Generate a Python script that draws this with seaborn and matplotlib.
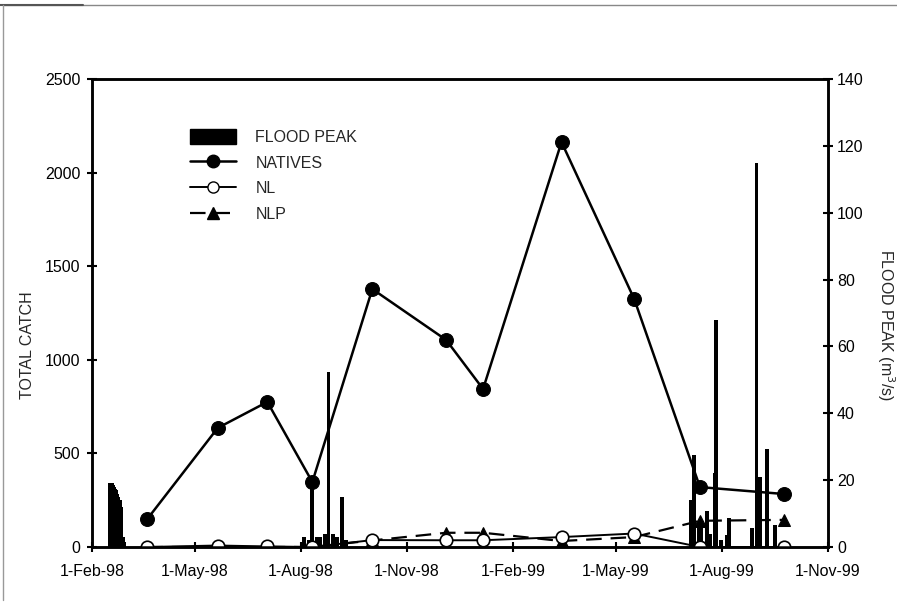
import matplotlib
matplotlib.use('Agg')
import matplotlib.pyplot as plt
from matplotlib.patches import Patch
from matplotlib.lines import Line2D
import seaborn as sns
import pandas as pd

# ---- data ----
sample_dates = ['1998-03-21', '1998-05-21', '1998-07-03', '1998-08-11', '1998-10-02',
                '1998-12-05', '1999-01-06', '1999-03-15', '1999-05-17', '1999-07-13',
                '1999-09-24']
natives = [150, 636, 775, 347, 1378, 1106, 844, 2163, 1325, 320, 283]
nl = [0, 8, 3, 0, 37, 36, 36, 53, 72, 0, 0]
nlp = [0, 0, 0, 0, 35, 76, 76, 32, 53, 140, 145]

flood_dates = ['1998-02-17', '1998-02-18', '1998-02-19', '1998-02-20', '1998-02-21',
               '1998-02-22', '1998-02-23', '1998-02-24', '1998-02-25', '1998-02-26',
               '1998-02-27', '1998-02-28', '1998-03-01',
               '1998-08-04', '1998-08-08', '1998-08-11', '1998-08-15', '1998-08-18',
               '1998-08-22', '1998-08-25', '1998-08-29', '1998-09-01', '1998-09-06',
               '1998-09-09',
               '1999-07-05', '1999-07-08', '1999-07-12', '1999-07-14', '1999-07-19',
               '1999-07-22', '1999-07-26', '1999-07-27', '1999-07-31', '1999-08-05',
               '1999-08-07', '1999-08-27', '1999-08-31', '1999-09-03', '1999-09-09',
               '1999-09-16']
flood_peak = [19, 19, 18.5, 18, 17.5, 17, 16, 15, 14, 12, 3, 3, 1.5,
              3, 2, 20, 3, 3, 4, 52.5, 4, 3, 15, 2,
              14, 27.5, 6.5, 6, 10.8, 4, 22, 68, 2, 3.5, 8.7, 5.7, 115, 21, 29.3, 6.6]

tick_dates = ['1998-02-01', '1998-05-01', '1998-08-01', '1998-11-01',
              '1999-02-01', '1999-05-01', '1999-08-01', '1999-11-01']
tick_labels = ['1-Feb-98', '1-May-98', '1-Aug-98', '1-Nov-98',
               '1-Feb-99', '1-May-99', '1-Aug-99', '1-Nov-99']
left_ticks = [0, 500, 1000, 1500, 2000, 2500]
right_ticks = [0, 20, 40, 60, 80, 100, 120, 140]

# ---- style ----
sns.set_theme(style='ticks')
plt.rcParams['font.family'] = ['Liberation Sans', 'DejaVu Sans']
FS = 11.5

fig = plt.figure(figsize=(8.97, 6.12), dpi=100)
ax = fig.add_axes([92 / 897, 1 - 547 / 612, (828 - 92) / 897, (547 - 79) / 612])
ax2 = ax.twinx()

sd = pd.to_datetime(sample_dates)
fd = pd.to_datetime(flood_dates)

# flood peak bars (right axis)
ax2.bar(fd, flood_peak, width=3.4, color='black', edgecolor='none', zorder=1)
ax2.set_ylim(0, 140)
ax2.set_yticks(right_ticks)

# catch lines (left axis)
sns.lineplot(x=sd, y=nlp, ax=ax, color='black', linewidth=1.6, marker='^',
             markersize=9, markerfacecolor='black', markeredgecolor='black')
ax.lines[-1].set_dashes([7, 4])
sns.lineplot(x=sd, y=nl, ax=ax, color='black', linewidth=1.4, marker='o',
             markersize=9, markerfacecolor='white', markeredgecolor='black',
             markeredgewidth=1.2)
sns.lineplot(x=sd, y=natives, ax=ax, color='black', linewidth=1.8, marker='o',
             markersize=10, markerfacecolor='black', markeredgecolor='black')

ax.set_zorder(ax2.get_zorder() + 1)
ax.patch.set_visible(False)

ax.set_ylim(0, 2500)
ax.set_yticks(left_ticks)
ax.set_xlim(pd.Timestamp('1998-02-01'), pd.Timestamp('1999-11-01'))
ax.set_xticks(pd.to_datetime(tick_dates))
ax.set_xticklabels(tick_labels)
ax.set_xlabel('')
ax.set_ylabel('')

for a in (ax, ax2):
    for s in a.spines.values():
        s.set_visible(True)
        s.set_linewidth(1.8)
        s.set_color('black')
ax.tick_params(axis='both', direction='inout', length=7, width=1.5,
               labelsize=FS, colors='black')
ax.tick_params(axis='x', pad=9)
ax.tick_params(axis='y', pad=5)
ax2.tick_params(axis='y', direction='inout', length=7, width=1.5,
                labelsize=FS, colors='black', pad=3)

fig.text(27.5 / 897, 1 - 345 / 612, 'TOTAL CATCH', rotation=90,
         ha='center', va='center', fontsize=FS)
fig.text(886 / 897, 1 - 325 / 612, 'FLOOD PEAK (m$^3$/s)', rotation=270,
         ha='center', va='center', fontsize=FS)

handles = [
    Patch(facecolor='black', edgecolor='black'),
    Line2D([], [], color='black', lw=1.8, marker='o', markersize=9,
           markerfacecolor='black'),
    Line2D([], [], color='black', lw=1.4, marker='o', markersize=8,
           markerfacecolor='white', markeredgecolor='black'),
    Line2D([], [], color='black', lw=1.6, marker='^', markersize=8,
           dashes=[7, 4]),
]
labels = ['FLOOD PEAK', 'NATIVES', 'NL', 'NLP']
ax.legend(handles, labels, loc='upper left', bbox_to_anchor=(0.133, 0.893),
          frameon=False, fontsize=FS, handlelength=2.9, handleheight=1.05,
          handletextpad=1.2, labelspacing=0.62, borderpad=0, borderaxespad=0)

# scanned page frame
fig.add_artist(Line2D([3 / 897, 1], [1 - 5 / 612, 1 - 5 / 612],
                      transform=fig.transFigure, color='#888888', lw=1))
fig.add_artist(Line2D([0, 83 / 897], [1 - 5 / 612, 1 - 5 / 612],
                      transform=fig.transFigure, color='#555555', lw=1.5))
fig.add_artist(Line2D([3 / 897, 3 / 897], [0.02, 1 - 5 / 612],
                      transform=fig.transFigure, color='#999999', lw=1))

fig.savefig('out.png', dpi=100)
